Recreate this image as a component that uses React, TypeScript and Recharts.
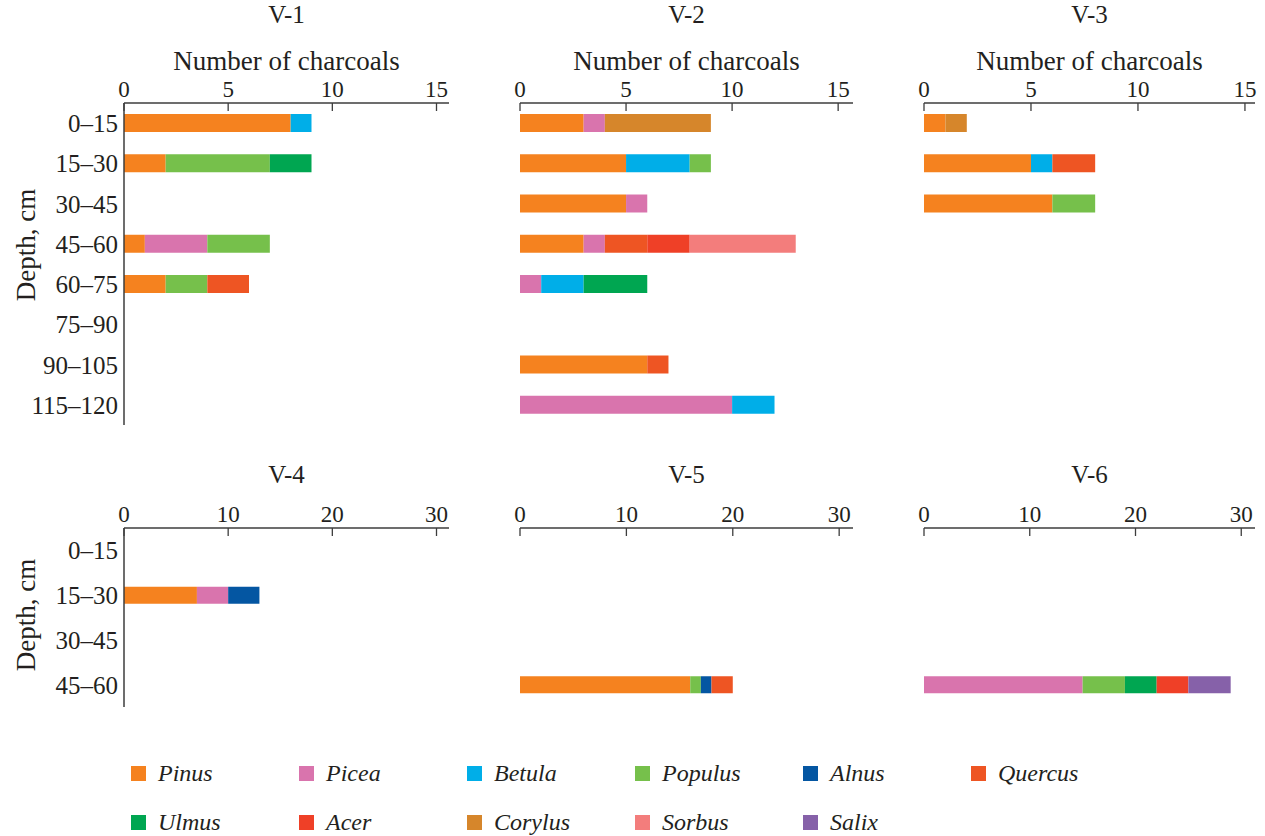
import { Bar, BarChart, XAxis, YAxis } from 'recharts'

const SPECIES = ['Pinus', 'Picea', 'Betula', 'Populus', 'Alnus', 'Quercus', 'Ulmus', 'Acer', 'Corylus', 'Sorbus', 'Salix']
const SPECIES_COLOR = ['#f5821f', '#d974ad', '#00aee8', '#76c04b', '#0456a2', '#ee5523', '#00a651', '#ef4027', '#d6862b', '#f37d7c', '#8661a9']

const DEPTHS_UPPER = ['0–15', '15–30', '30–45', '45–60', '60–75', '75–90', '90–105', '115–120']
const DEPTHS_LOWER = ['0–15', '15–30', '30–45', '45–60']

const TICKS_UPPER = [0, 5, 10, 15]
const TICKS_LOWER = [0, 10, 20, 30]

// charcoal counts per depth interval (same order as the depth list)
const V1: Record<string, number[]> = {
	Pinus: [8, 2, 0, 1, 2, 0, 0, 0],
	Picea: [0, 0, 0, 3, 0, 0, 0, 0],
	Betula: [1, 0, 0, 0, 0, 0, 0, 0],
	Populus: [0, 5, 0, 3, 2, 0, 0, 0],
	Quercus: [0, 0, 0, 0, 2, 0, 0, 0],
	Ulmus: [0, 2, 0, 0, 0, 0, 0, 0],
}
const V2: Record<string, number[]> = {
	Pinus: [3, 5, 5, 3, 0, 0, 6, 0],
	Picea: [1, 0, 1, 1, 1, 0, 0, 10],
	Betula: [0, 3, 0, 0, 2, 0, 0, 2],
	Populus: [0, 1, 0, 0, 0, 0, 0, 0],
	Quercus: [0, 0, 0, 2, 0, 0, 1, 0],
	Ulmus: [0, 0, 0, 0, 3, 0, 0, 0],
	Acer: [0, 0, 0, 2, 0, 0, 0, 0],
	Corylus: [5, 0, 0, 0, 0, 0, 0, 0],
	Sorbus: [0, 0, 0, 5, 0, 0, 0, 0],
}
const V3: Record<string, number[]> = {
	Pinus: [1, 5, 6, 0, 0, 0, 0, 0],
	Betula: [0, 1, 0, 0, 0, 0, 0, 0],
	Populus: [0, 0, 2, 0, 0, 0, 0, 0],
	Quercus: [0, 2, 0, 0, 0, 0, 0, 0],
	Corylus: [1, 0, 0, 0, 0, 0, 0, 0],
}
const V4: Record<string, number[]> = {
	Pinus: [0, 7, 0, 0],
	Picea: [0, 3, 0, 0],
	Alnus: [0, 3, 0, 0],
}
const V5: Record<string, number[]> = {
	Pinus: [0, 0, 0, 16],
	Populus: [0, 0, 0, 1],
	Alnus: [0, 0, 0, 1],
	Quercus: [0, 0, 0, 2],
}
const V6: Record<string, number[]> = {
	Picea: [0, 0, 0, 15],
	Populus: [0, 0, 0, 4],
	Ulmus: [0, 0, 0, 3],
	Acer: [0, 0, 0, 3],
	Salix: [0, 0, 0, 4],
}

const FONT = 'Liberation Serif, DejaVu Serif, serif'
const INK = '#231f20'
const AXIS = '#3d3d3d'
const AXIS_H = 30

function buildRows(depths: string[], counts: Record<string, number[]>) {
	return depths.map((depth, i) => {
		const row: Record<string, string | number> = { depth }
		for (const s of SPECIES) row[s] = counts[s]?.[i] ?? 0
		return row
	})
}

type Box = { left: number; top: number; width: number; height: number }
type Plot = { x0: number; x1: number; y0: number; y1: number }

type PanelProps = {
	title: string
	depths: string[]
	counts: Record<string, number[]>
	ticks: number[]
	max: number
	box: Box
	plot: Plot
	labels: boolean
	barSize: number
	axisTitle: boolean
}

function Panel({ title, depths, counts, ticks, max, box, plot, labels, barSize, axisTitle }: PanelProps) {
	const rows = buildRows(depths, counts)
	const yw = labels ? plot.x0 - box.left : 0
	const margin = {
		top: plot.y0 - box.top - AXIS_H,
		left: plot.x0 - box.left - yw,
		right: box.left + box.width - plot.x1,
		bottom: box.top + box.height - plot.y1,
	}
	const axisY = plot.y0 - box.top
	const cx = (plot.x0 + plot.x1) / 2 - box.left

	const xTick = (p: any) => (
		<g>
			<line x1={p.x} x2={p.x} y1={axisY} y2={axisY + 8} stroke={AXIS} strokeWidth={1.3} />
			<text x={p.x} y={axisY - 6} textAnchor='middle' fontSize={23} fill={INK} style={{ fontFamily: FONT }}>
				{p.payload.value}
			</text>
		</g>
	)

	return (
		<div style={{ position: 'absolute', left: box.left, top: box.top, width: box.width, height: box.height }}>
			<BarChart width={box.width} height={box.height} data={rows} layout='vertical' margin={margin} barCategoryGap={0}>
				<XAxis
					type='number'
					orientation='top'
					domain={[0, max]}
					ticks={ticks}
					interval={0}
					height={AXIS_H}
					allowDataOverflow
					axisLine={{ stroke: AXIS, strokeWidth: 1.5 }}
					tickLine={false}
					tick={xTick}
				/>
				<YAxis
					type='category'
					dataKey='depth'
					width={yw}
					axisLine={{ stroke: AXIS, strokeWidth: 1.5 }}
					tickLine={false}
					tickSize={0}
					tickMargin={6}
					tick={labels ? { fill: INK, fontSize: 25, style: { fontFamily: FONT } } : false}
				/>
				{SPECIES.map((s, i) => (
					<Bar key={s} dataKey={s} stackId='a' fill={SPECIES_COLOR[i]} barSize={barSize} isAnimationActive={false} />
				))}
			</BarChart>
			<div
				style={{
					position: 'absolute',
					left: cx - 100,
					width: 200,
					top: axisTitle ? 2 : 22,
					textAlign: 'center',
					fontFamily: FONT,
					fontSize: 25,
					lineHeight: '26px',
					color: INK,
				}}
			>
				{title}
			</div>
			{axisTitle && (
				<div
					style={{
						position: 'absolute',
						left: cx - 160,
						width: 320,
						top: 47,
						textAlign: 'center',
						fontFamily: FONT,
						fontSize: 27,
						lineHeight: '28px',
						color: INK,
					}}
				>
					Number of charcoals
				</div>
			)}
		</div>
	)
}

function DepthLabel({ cy }: { cy: number }) {
	return (
		<div
			style={{
				position: 'absolute',
				left: 26 - 80,
				top: cy - 14,
				width: 160,
				height: 28,
				lineHeight: '28px',
				textAlign: 'center',
				transform: 'rotate(-90deg)',
				fontFamily: FONT,
				fontSize: 27,
				color: INK,
			}}
		>
			Depth, cm
		</div>
	)
}

function Legend() {
	return (
		<>
			{SPECIES.map((s, i) => {
				const col = i % 6
				const row = Math.floor(i / 6)
				const left = 131 + col * 168
				const top = row === 0 ? 766 : 815
				return (
					<div key={s} style={{ position: 'absolute', left, top, height: 16 }}>
						<div style={{ position: 'absolute', left: 0, top: 0, width: 15, height: 15, background: SPECIES_COLOR[i] }} />
						<div
							style={{
								position: 'absolute',
								left: 27,
								top: -6,
								fontFamily: FONT,
								fontStyle: 'italic',
								fontSize: 24,
								lineHeight: '26px',
								color: INK,
								whiteSpace: 'nowrap',
							}}
						>
							{s}
						</div>
					</div>
				)
			})}
		</>
	)
}

export default function App() {
	return (
		<div style={{ position: 'absolute', left: 0, top: 0, width: 1265, height: 836, background: '#fff', overflow: 'hidden' }}>
			<Panel title='V-1' depths={DEPTHS_UPPER} counts={V1} ticks={TICKS_UPPER} max={15.6}
				box={{ left: 0, top: 0, width: 460, height: 440 }} plot={{ x0: 124, x1: 449, y0: 103, y1: 425 }}
				labels barSize={18} axisTitle />
			<Panel title='V-2' depths={DEPTHS_UPPER} counts={V2} ticks={TICKS_UPPER} max={15.7}
				box={{ left: 460, top: 0, width: 400, height: 440 }} plot={{ x0: 520, x1: 853, y0: 103, y1: 425 }}
				labels={false} barSize={18} axisTitle />
			<Panel title='V-3' depths={DEPTHS_UPPER} counts={V3} ticks={TICKS_UPPER} max={15.47}
				box={{ left: 860, top: 0, width: 405, height: 440 }} plot={{ x0: 924, x1: 1255, y0: 103, y1: 425 }}
				labels={false} barSize={18} axisTitle />
			<Panel title='V-4' depths={DEPTHS_LOWER} counts={V4} ticks={TICKS_LOWER} max={31.2}
				box={{ left: 0, top: 440, width: 460, height: 290 }} plot={{ x0: 124, x1: 449, y0: 528, y1: 707 }}
				labels barSize={17} axisTitle={false} />
			<Panel title='V-5' depths={DEPTHS_LOWER} counts={V5} ticks={TICKS_LOWER} max={31.3}
				box={{ left: 460, top: 440, width: 400, height: 290 }} plot={{ x0: 520, x1: 853, y0: 528, y1: 707 }}
				labels={false} barSize={17} axisTitle={false} />
			<Panel title='V-6' depths={DEPTHS_LOWER} counts={V6} ticks={TICKS_LOWER} max={31.3}
				box={{ left: 860, top: 440, width: 405, height: 290 }} plot={{ x0: 924, x1: 1255, y0: 528, y1: 707 }}
				labels={false} barSize={17} axisTitle={false} />
			<DepthLabel cy={245} />
			<DepthLabel cy={615} />
			<Legend />
		</div>
	)
}
